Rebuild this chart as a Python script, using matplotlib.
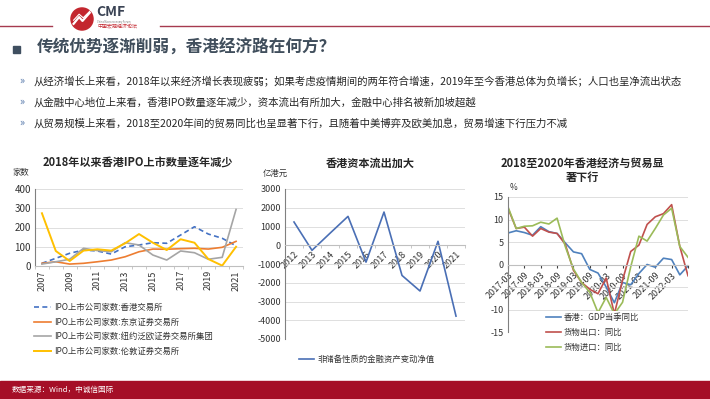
import matplotlib
matplotlib.use('Agg')
import matplotlib.pyplot as plt
from matplotlib.patches import Circle, Rectangle
from matplotlib.lines import Line2D
import numpy as np

plt.rcParams['font.family'] = ['Noto Sans CJK SC', 'DejaVu Sans']
plt.rcParams['axes.unicode_minus'] = False

W, H = 710, 399

# chart 1: IPO counts by exchange
years = ['2007', '2008', '2009', '2010', '2011', '2012', '2013', '2014',
         '2015', '2016', '2017', '2018', '2019', '2020', '2021']
ipo_hk = [14, 40, 66, 83, 78, 62, 100, 109, 121, 118, 161, 204, 166, 144, 105]
ipo_tokyo = [14, 22, 10, 14, 22, 31, 48, 74, 88, 87, 90, 92, 88, 97, 128]
ipo_nyse = [10, 22, 35, 92, 80, 74, 121, 109, 57, 31, 78, 69, 35, 45, 294]
ipo_london = [274, 78, 26, 80, 87, 80, 118, 166, 121, 83, 139, 121, 36, 2, 100]
ipo_names = ['IPO上市公司家数:香港交易所', 'IPO上市公司家数:东京证券交易所',
             'IPO上市公司家数:纽约泛欧证券交易所集团', 'IPO上市公司家数:伦敦证券交易所']

# chart 2: net non-reserve financial assets (100m HKD)
flow_years = ['2012', '2013', '2014', '2015', '2016', '2017', '2018', '2019', '2020', '2021']
flow_values = [1240, -270, 640, 1540, -900, 1770, -1610, -2440, 210, -3780]
flow_name = '非储备性质的金融资产变动净值'

# chart 3: GDP and trade yoy, quarterly
quarters = ['2017-03', '2017-06', '2017-09', '2017-12', '2018-03', '2018-06',
            '2018-09', '2018-12', '2019-03', '2019-06', '2019-09', '2019-12',
            '2020-03', '2020-06', '2020-09', '2020-12', '2021-03', '2021-06',
            '2021-09', '2021-12', '2022-03', '2022-06', '2022-09']
gdp_yoy = [7.0, 7.5, 7.1, 6.5, 8.4, 7.3, 6.9, 4.8, 2.8, 2.4, -1.1, -1.9,
           -5.0, -8.5, -4.0, -4.5, -2.0, 0.0, -0.6, 1.4, 1.1, -2.3, -0.3]
export_yoy = [12.5, 8.0, 8.3, 6.3, 8.0, 7.2, 6.9, 4.5, -1.3, -4.0, -5.5, -6.5,
              -3.0, -11.0, -3.5, 2.9, 4.3, 8.9, 10.6, 11.3, 13.3, 4.0, -2.5]
import_yoy = [12.8, 8.0, 8.5, 8.6, 9.4, 9.0, 10.3, 4.0, -1.0, -4.0, -6.2, -10.7,
              -7.3, -11.0, -8.4, -0.5, 6.3, 5.2, 8.0, 11.0, 12.5, 4.0, 1.6]
trade_names = ['香港：GDP当季同比', '货物出口：同比', '货物进口：同比']

bullets = [
    '从经济增长上来看，2018年以来经济增长表现疲弱；如果考虑疫情期间的两年符合增速，2019年至今香港总体为负增长；人口也呈净流出状态',
    '从金融中心地位上来看，香港IPO数量逐年减少，资本流出有所加大，金融中心排名被新加坡超越',
    '从贸易规模上来看，2018至2020年间的贸易同比也呈显著下行，且随着中美博弈及欧美加息，贸易增速下行压力不减',
]

fig = plt.figure(figsize=(7.1, 3.99), dpi=100)


def box(x, y, w, h):
    # pixel box, top-left origin -> figure fraction
    return [x / W, 1 - (y + h) / H, w / W, h / H]


def ftext(x, y, s, **kw):
    return fig.text(x / W, 1 - y / H, s, **kw)


grid_c = '#d9d9d9'
tick_c = '#333333'

# ---- header ----
fig.add_artist(Line2D([0, 52 / W], [1 - 26 / H] * 2, color='#a63a4f', lw=1.0))
fig.add_artist(Line2D([160 / W, 1], [1 - 26 / H] * 2, color='#a63a4f', lw=1.0))
logo = fig.add_axes(box(70, 7, 24, 24))
logo.set_xlim(0, 1)
logo.set_ylim(0, 1)
logo.axis('off')
logo.add_patch(Circle((0.5, 0.5), 0.46, color='#c3262e'))
logo.plot([0.15, 0.38, 0.52, 0.82], [0.3, 0.58, 0.42, 0.76], color='white', lw=1.6)
logo.plot([0.15, 0.38, 0.55, 0.85], [0.45, 0.7, 0.55, 0.85], color='white', lw=0.8)
ftext(96, 12, 'CMF', fontsize=10, fontweight='bold', color='#3a4354', va='center')
ftext(97, 21.5, 'China Macroeconomy Forum', fontsize=1.8, color='#777777', va='center')
ftext(97, 26.5, '中国宏观经济论坛', fontsize=3.6, color='#c3262e', va='center')

# ---- title and bullets ----
fig.add_artist(Rectangle((13 / W, 1 - 53 / H), 7 / W, 7 / H, color='#3f4f60',
                         transform=fig.transFigure))
ftext(37, 48, '传统优势逐渐削弱，香港经济路在何方？', fontsize=12, fontweight='bold',
      color='#404e5c', va='center')
for yy, s in zip([81, 102, 123], bullets):
    ftext(19, yy, '»', fontsize=7.5, color='#4a6fa5', va='center')
    ftext(34, yy, s, fontsize=7.5, color='#262626', va='center')

# ---- footer ----
fig.add_artist(Rectangle((0, 0), 1, 18 / H, color='#a50f27', transform=fig.transFigure))
ftext(12, 390, '数据来源：Wind，中诚信国际', fontsize=5.5, color='white', va='center',
      style='italic')

# ---- chart 1 ----
ax1 = fig.add_axes(box(35, 189, 208, 77))
x1 = np.arange(len(years))
ax1.plot(x1, ipo_hk, color='#4472c4', lw=1.2, ls=(0, (3, 2)), label=ipo_names[0])
ax1.plot(x1, ipo_tokyo, color='#ed7d31', lw=1.2, label=ipo_names[1])
ax1.plot(x1, ipo_nyse, color='#a5a5a5', lw=1.2, label=ipo_names[2])
ax1.plot(x1, ipo_london, color='#ffc000', lw=1.4, label=ipo_names[3])
ax1.set_xlim(-0.5, len(years) - 0.5)
ax1.set_ylim(0, 400)
ax1.set_yticks([0, 100, 200, 300, 400])
ax1.set_xticks(x1[::2], years[::2], rotation=90)
ax1.set_xticks(np.arange(-0.5, len(years), 1), minor=True)
ax1.tick_params(axis='x', which='major', length=0, labelsize=6.5, colors=tick_c, pad=3)
ax1.tick_params(axis='x', which='minor', length=2.5, color='#bfbfbf')
ax1.tick_params(axis='y', length=0, labelsize=7, colors=tick_c, pad=3)
ax1.grid(axis='y', color=grid_c, lw=0.6)
ax1.set_axisbelow(True)
for sp in ['top', 'right']:
    ax1.spines[sp].set_visible(False)
ax1.spines['left'].set_color('#808080')
ax1.spines['bottom'].set_color('#bfbfbf')
ftext(138, 163, '2018年以来香港IPO上市数量逐年减少', fontsize=8, fontweight='bold',
      ha='center', va='center', color='#262626')
ftext(12, 172, '家数', fontsize=6, color=tick_c, va='center')
ax1.legend(loc='upper left', bbox_to_anchor=(34 / W, 1 - 303 / H),
           bbox_transform=fig.transFigure, frameon=False, fontsize=6,
           handlelength=2.0, handletextpad=0.4, labelspacing=0.68, borderpad=0,
           borderaxespad=0, labelcolor='#333333')

# ---- chart 2 ----
ax2 = fig.add_axes(box(285, 189, 180, 150))
x2 = np.arange(len(flow_years))
ax2.plot(x2, flow_values, color='#4a6fb5', lw=1.2, label=flow_name)
ax2.set_xlim(-0.5, len(flow_years) - 0.5)
ax2.set_ylim(-5000, 3000)
ax2.set_yticks(np.arange(-5000, 3001, 1000))
ax2.spines['bottom'].set_position(('data', 0))
ax2.set_xticks(x2, flow_years, rotation=45, ha='right', rotation_mode='anchor')
ax2.set_xticks(np.arange(-0.5, len(flow_years), 1), minor=True)
ax2.tick_params(axis='x', which='major', length=0, labelsize=6.5, colors=tick_c, pad=3)
ax2.tick_params(axis='x', which='minor', length=2.5, color='#bfbfbf')
ax2.tick_params(axis='y', length=0, labelsize=6.5, colors=tick_c, pad=3)
ax2.grid(axis='y', color=grid_c, lw=0.6)
ax2.set_axisbelow(True)
for sp in ['top', 'right']:
    ax2.spines[sp].set_visible(False)
ax2.spines['left'].set_color('#808080')
ax2.spines['bottom'].set_color('#bfbfbf')
ftext(370, 163, '香港资本流出加大', fontsize=8, fontweight='bold', ha='center',
      va='center', color='#262626')
ftext(275, 173, '亿港元', fontsize=6, color=tick_c, va='center', ha='center')
ax2.legend(loc='center left', bbox_to_anchor=(299 / W, 1 - 359 / H),
           bbox_transform=fig.transFigure, frameon=False, fontsize=6,
           handlelength=1.8, handletextpad=0.4, borderpad=0, borderaxespad=0,
           labelcolor='#333333')

# ---- chart 3 ----
ax3 = fig.add_axes(box(508, 197, 180, 135))
x3 = np.arange(len(quarters))
ax3.plot(x3, gdp_yoy, color='#4f81bd', lw=1.2, label=trade_names[0])
ax3.plot(x3, export_yoy, color='#c0504d', lw=1.2, label=trade_names[1])
ax3.plot(x3, import_yoy, color='#9bbb59', lw=1.2, label=trade_names[2])
ax3.set_xlim(0, len(quarters) - 1)
ax3.set_ylim(-15, 15)
ax3.set_yticks([-15, -10, -5, 0, 5, 10, 15], ['-15', '-10', '', '0', '5', '10', '15'])
ax3.spines['bottom'].set_position(('data', 0))
tick_pos = x3[::2]
tick_lab = [q if i <= 20 else '' for i, q in zip(tick_pos, quarters[::2])]
ax3.set_xticks(tick_pos, tick_lab, rotation=45, ha='right', rotation_mode='anchor')
ax3.tick_params(axis='x', length=2.5, color='#404040', labelsize=6.5, colors=tick_c, pad=2)
ax3.tick_params(axis='x', color='#404040')
ax3.tick_params(axis='y', length=0, labelsize=6.5, colors=tick_c, pad=3)
ax3.grid(axis='y', color=grid_c, lw=0.6)
ax3.set_axisbelow(True)
for sp in ['top', 'right']:
    ax3.spines[sp].set_visible(False)
ax3.spines['left'].set_color('#808080')
ax3.spines['bottom'].set_color('#bfbfbf')
ftext(582, 163, '2018至2020年香港经济与贸易显', fontsize=8, fontweight='bold',
      ha='center', va='center', color='#262626')
ftext(582, 177, '著下行', fontsize=8, fontweight='bold', ha='center', va='center',
      color='#262626')
ftext(513, 188, '%', fontsize=6, color=tick_c, va='center', ha='center')
ax3.legend(loc='upper left', bbox_to_anchor=(544 / W, 1 - 311 / H),
           bbox_transform=fig.transFigure, frameon=True, facecolor='white',
           edgecolor='none', framealpha=1, fontsize=6, handlelength=1.8,
           handletextpad=0.4, labelspacing=0.75, borderpad=0.2, borderaxespad=0,
           labelcolor='#333333', fancybox=False)

fig.savefig('out.png', dpi=100)
